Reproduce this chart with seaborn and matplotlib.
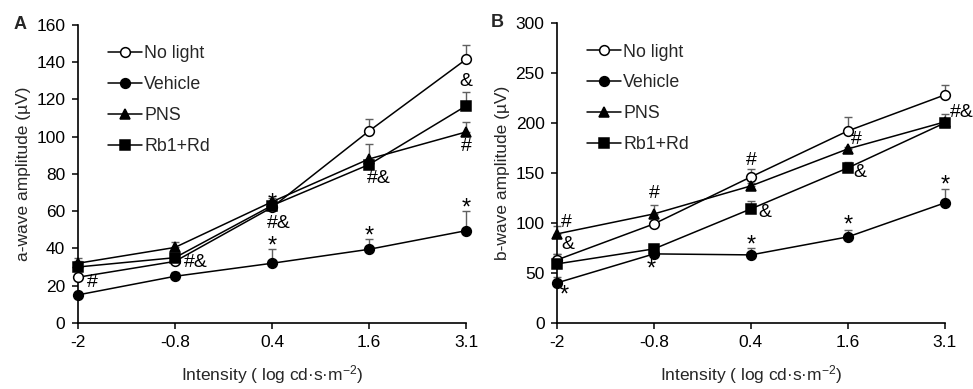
import matplotlib
matplotlib.use("Agg")
import matplotlib.pyplot as plt
import seaborn as sns
import pandas as pd
import numpy as np

sns.set_theme(style="white")
plt.rcParams["font.family"] = ["Liberation Sans", "DejaVu Sans"]
plt.rcParams["mathtext.fontset"] = "custom"
plt.rcParams["mathtext.rm"] = "Liberation Sans"
plt.rcParams["mathtext.it"] = "Liberation Sans:italic"

intensities = ["-2", "-0.8", "0.4", "1.6", "3.1"]
groups = ["No light", "Vehicle", "PNS", "Rb1+Rd"]

# Panel A: a-wave amplitude (µV) means and upper error-bar tops
a_nolight = [24.5, 33, 62, 103, 141.5]
a_vehicle = [15, 25, 32, 39.5, 49.5]
a_pns = [32, 40.5, 65, 88, 102.5]
a_rb1rd = [30, 35, 63, 85, 116.5]
a_nolight_top = [28, 35, 64, 109.5, 149]
a_vehicle_top = [15, 27.5, 39.5, 45, 60]
a_pns_top = [35, 43.5, 67, 96, 108]
a_rb1rd_top = [33, 37, 65, 87, 124]

# Panel B: b-wave amplitude (µV)
b_nolight = [63, 99, 146, 192, 228]
b_vehicle = [40, 69, 68, 86, 120]
b_pns = [89, 109, 137, 174, 201]
b_rb1rd = [59, 74, 114, 155, 200]
b_nolight_top = [69, 101, 154, 206, 238]
b_vehicle_top = [46, 71, 75, 93, 134]
b_pns_top = [97, 118, 140, 176, 204]
b_rb1rd_top = [69, 78, 122, 161, 209]

# significance marks: (category index offset, value, text)
a_marks = [(0.15, 21.5, "#"), (1.22, 32.5, "#&"), (2.0, 41.0, "*"), (2.07, 53.5, "#&"),
           (2.0, 64.0, "*"), (3.1, 77.5, "#&"), (3.0, 46.5, "*"), (4.0, 129.5, "&"),
           (4.0, 94.5, "#"), (4.0, 61.5, "*")]
b_marks = [(0.1, 100, "#"), (0.11, 78, "&"), (0.07, 27, "*"), (1.0, 129, "#"),
           (0.97, 53, "*"), (2.0, 162, "#"), (2.14, 110, "&"), (2.0, 77, "*"),
           (3.09, 183, "#"), (3.12, 150, "&"), (3.0, 97, "*"), (4.18, 210, "#&"),
           (4.0, 137, "*")]

styles = {
    "No light": dict(marker="o", markerfacecolor="white"),
    "Vehicle": dict(marker="o", markerfacecolor="black"),
    "PNS": dict(marker="^", markerfacecolor="black"),
    "Rb1+Rd": dict(marker="s", markerfacecolor="black"),
}

panels = [
    dict(means=[a_nolight, a_vehicle, a_pns, a_rb1rd],
         tops=[a_nolight_top, a_vehicle_top, a_pns_top, a_rb1rd_top],
         ylabel="a-wave amplitude (µV)", ylim=(0, 160), ystep=20, letter="A",
         marks=a_marks, rect=[0.080, 0.170, 0.399, 0.766], lx=-0.165),
    dict(means=[b_nolight, b_vehicle, b_pns, b_rb1rd],
         tops=[b_nolight_top, b_vehicle_top, b_pns_top, b_rb1rd_top],
         ylabel="b-wave amplitude (µV)", ylim=(0, 300), ystep=50, letter="B",
         marks=b_marks, rect=[0.5725, 0.170, 0.3985, 0.771], lx=-0.17),
]

fig = plt.figure(figsize=(9.73, 3.89), dpi=100)

for p in panels:
    ax = fig.add_axes(p["rect"])
    pos = np.arange(len(intensities))
    for g, m, t in zip(groups, p["means"], p["tops"]):
        m = np.array(m, dtype=float)
        t = np.array(t, dtype=float)
        ax.errorbar(pos, m, yerr=[np.zeros_like(m), t - m], fmt="none",
                    ecolor="#606060", elinewidth=1.0, capsize=3, capthick=1.0,
                    zorder=2, clip_on=False)
        df = pd.DataFrame({"x": pos, "y": m})
        sns.lineplot(data=df, x="x", y="y", ax=ax, color="black", linewidth=1.1,
                     markersize=7 if styles[g]["marker"] != "s" else 6.5,
                     markeredgecolor="black", markeredgewidth=1.1,
                     label=g, zorder=3, clip_on=False, **styles[g])
    for (xx, yy, txt) in p["marks"]:
        fs = 17 if txt == "*" else 14
        ax.text(xx, yy, txt, ha="center", va="center", fontsize=fs, color="black",
                zorder=4)
    ax.set_xlim(0, 4)
    ax.set_ylim(*p["ylim"])
    ax.set_xticks(pos)
    ax.set_xticklabels(intensities)
    ax.set_yticks(np.arange(p["ylim"][0], p["ylim"][1] + 1, p["ystep"]))
    ax.tick_params(axis="both", labelsize=12.5, direction="out", length=4, width=1.1,
                   colors="black", left=True, bottom=True, pad=5)
    for s in ["top", "right"]:
        ax.spines[s].set_visible(False)
    for s in ["left", "bottom"]:
        ax.spines[s].set_color("black")
        ax.spines[s].set_linewidth(1.2)
    ax.set_xlabel("Intensity ( log cd·s·m$^{-2}$)", fontsize=12.5, labelpad=9)
    ax.set_ylabel(p["ylabel"], fontsize=12.5, labelpad=4)
    leg = ax.legend(loc="upper left", bbox_to_anchor=(0.06, 0.955), frameon=False,
                    fontsize=12.8, handlelength=1.9, handletextpad=0.12,
                    labelspacing=0.78, borderaxespad=0.0)
    ax.text(p["lx"], 1.0, p["letter"], transform=ax.transAxes, fontsize=13,
            fontweight="bold", ha="left", va="center")

fig.savefig("out.png", dpi=100)
